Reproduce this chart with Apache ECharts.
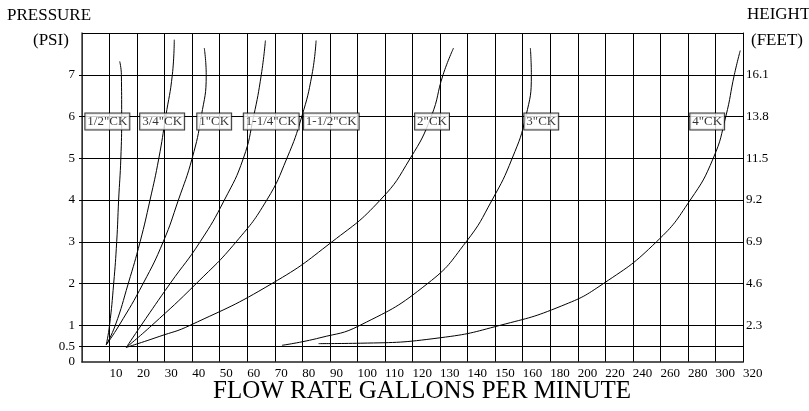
<!DOCTYPE html>
<html>
<head>
<meta charset="utf-8">
<script src="https://cdn.jsdelivr.net/npm/echarts@6/dist/echarts.min.js"></script>
<style>
html, body { margin: 0; padding: 0; background: #fff; }
#chart { width: 809px; height: 411px; }
</style>
</head>
<body>
<div id="chart"></div>
<script>
// bottom tick labels: one grid step is 10 gpm up to 160, then 20 gpm
var flowTicks = ['', '10', '20', '30', '40', '50', '60', '70', '80', '90', '100', '110', '120',
  '130', '140', '150', '160', '180', '200', '220', '240', '260', '280', '300', '320'];
var psiTicks = [0.5, 1, 2, 3, 4, 5, 6, 7];
var feetTicks = ['2.3', '4.6', '6.9', '9.2', '11.5', '13.8', '16.1'];
var psiFloor = 0.12; // bottom edge of the chart, printed as "0"

var valveNames = ['1/2"CK', '3/4"CK', '1"CK', '1-1/4"CK', '1-1/2"CK', '2"CK', '3"CK', '4"CK'];
var labelFlow = [9.2, 29.1, 48, 68.7, 90.5, 127.1, 173.5, 294];

// curves as [flow gpm, pressure psi]
var ck12 = [[8.8, 0.53], [10, 1], [11.5, 2], [12.6, 3], [13.3, 4], [14.1, 5], [14.4, 6], [14.3, 7], [13.7, 7.32]];
var ck34 = [[8.8, 0.53], [12.1, 1], [16.8, 2], [21.1, 3], [24.7, 4], [27.9, 5], [30.4, 6], [32.8, 7], [33.5, 7.84]];
var ck1 = [[8.8, 0.53], [13.5, 1], [22.2, 2], [29.5, 3], [35, 4], [40, 5], [43.3, 6], [45.1, 7], [44.4, 7.64]];
var ck114 = [[16.1, 0.47], [21.5, 1], [32, 2], [42.9, 3], [51.7, 4], [58.6, 5], [62.3, 6], [65.1, 7], [66.6, 7.82]];
var ck112 = [[16.1, 0.47], [25.4, 1], [41.5, 2], [56, 3], [67.1, 4], [74.4, 5], [79.8, 6], [83.5, 7], [85, 7.82]];
var ck2 = [[16.1, 0.47], [28, 0.73], [39.3, 1], [69, 2], [90.8, 3], [108.3, 4], [119.2, 5], [126.8, 6], [131.1, 7], [134.9, 7.64]];
var ck3 = [[72.6, 0.52], [86.4, 0.7], [101, 1], [125.5, 2], [139.5, 3], [148.9, 4], [156.2, 5], [162.3, 6], [166.3, 7], [165.6, 7.64]];
var ck4 = [[85.9, 0.56], [101, 0.57], [130, 0.7], [151.9, 1], [188, 1.46], [218.7, 2], [257.2, 3], [281.7, 4], [298.4, 5], [307.5, 6], [313.7, 7], [318, 7.58]];
var curves = [ck12, ck34, ck1, ck114, ck112, ck2, ck3, ck4];

// the flow axis is drawn in grid steps
function flowToAxis(q) {
  return q <= 160 ? q / 10 : 16 + (q - 160) / 20;
}

var serif = 'Liberation Serif';
var myChart = echarts.init(document.getElementById('chart'));

var series = curves.map(function (c, i) {
  return {
    name: valveNames[i],
    type: 'line',
    smooth: 0.5,
    showSymbol: false,
    z: 3,
    lineStyle: { color: '#000', width: 1 },
    data: c.map(function (p) { return [flowToAxis(p[0]), p[1]]; })
  };
});

// horizontal grid lines at the pressure ticks, plus the top border
series.push({
  type: 'line',
  data: [],
  z: 1,
  markLine: {
    silent: true,
    symbol: 'none',
    label: { show: false },
    lineStyle: { color: '#000', width: 1, type: 'solid' },
    data: psiTicks.concat([8]).map(function (v) { return { yAxis: v }; })
  }
});

// boxed valve names on the 6 psi line
series.push({
  type: 'scatter',
  symbolSize: 1,
  z: 10,
  itemStyle: { color: 'rgba(0,0,0,0)' },
  label: {
    show: true,
    position: 'inside',
    formatter: '{b}',
    offset: [0, 5],
    color: '#000',
    fontFamily: serif,
    fontSize: 13,
    backgroundColor: '#fff',
    borderColor: '#000',
    borderWidth: 1,
    padding: [2, 2, 1, 2]
  },
  data: labelFlow.map(function (q, i) {
    return { name: valveNames[i], value: [flowToAxis(q), 6] };
  })
});

var option = {
  animation: false,
  grid: { left: 82, right: 66, top: 33, bottom: 49 },
  xAxis: {
    type: 'value',
    min: 0,
    max: 24,
    interval: 1,
    axisLine: { show: true, lineStyle: { color: '#222', width: 1.5 } },
    axisTick: { show: false },
    splitLine: { show: true, lineStyle: { color: '#000', width: 1 } },
    axisLabel: {
      formatter: function (v) { return flowTicks[v] || ''; },
      align: 'left',
      margin: 5,
      color: '#000',
      fontFamily: serif,
      fontSize: 13
    }
  },
  yAxis: [
    {
      type: 'value',
      min: psiFloor,
      max: 8,
      splitLine: { show: false },
      axisLine: { show: true, lineStyle: { color: '#444', width: 1.5 } },
      axisTick: { show: true, length: 3, customValues: psiTicks, lineStyle: { color: '#000' } },
      axisLabel: {
        customValues: [psiFloor].concat(psiTicks),
        formatter: function (v) { return v < 0.2 ? '0' : String(v); },
        margin: 7,
        color: '#000',
        fontFamily: serif,
        fontSize: 13
      }
    },
    {
      type: 'value',
      position: 'right',
      min: psiFloor,
      max: 8,
      splitLine: { show: false },
      axisLine: { show: true, lineStyle: { color: '#000', width: 1 } },
      axisTick: { show: false },
      axisLabel: {
        customValues: [1, 2, 3, 4, 5, 6, 7],
        formatter: function (v) { return feetTicks[Math.round(v) - 1] || ''; },
        margin: 3,
        color: '#000',
        fontFamily: serif,
        fontSize: 13
      }
    }
  ],
  graphic: [
    { type: 'text', left: 7, top: 7, style: { text: 'PRESSURE', font: '17px "Liberation Serif"', fill: '#000' } },
    { type: 'text', left: 33, top: 32, style: { text: '(PSI)', font: '17px "Liberation Serif"', fill: '#000' } },
    { type: 'text', left: 747, top: 6, style: { text: 'HEIGHT', font: '17px "Liberation Serif"', fill: '#000' } },
    { type: 'text', left: 751, top: 32, style: { text: '(FEET)', font: '17px "Liberation Serif"', fill: '#000' } },
    { type: 'text', x: 422, y: 391, style: { text: 'FLOW RATE GALLONS PER MINUTE', font: '25px "Liberation Serif"', fill: '#000', textAlign: 'center', textVerticalAlign: 'middle' } }
  ],
  series: series
};
myChart.setOption(option);
</script>
</body>
</html>
